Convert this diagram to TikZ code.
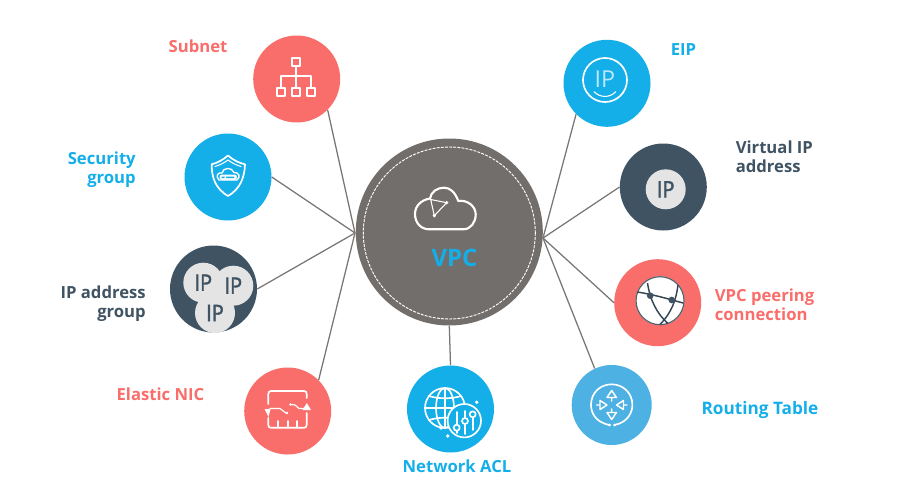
\documentclass[tikz,border=0pt]{standalone}
\usepackage{fontspec}
\setmainfont{Open Sans}
\newfontfamily\ipfont[FakeBold=1.6,FakeStretch=0.88]{Open Sans}
\definecolor{hwblue}{HTML}{14AEE9}
\definecolor{hwred}{HTML}{F96E6A}
\definecolor{hwdark}{HTML}{3F5363}
\definecolor{hwsky}{HTML}{4DB1E4}
\definecolor{hwgrey}{HTML}{726E6C}
\definecolor{hwlight}{HTML}{E4E4E4}
\definecolor{hwline}{HTML}{7A7674}
\tikzset{
  x=0.75pt,y=-0.75pt,
  disc/.style={circle,inner sep=0pt,minimum size=65.25pt,fill=#1},
  link/.style={draw=hwline,line width=0.95pt},
  lbl/.style={font=\bfseries\fontsize{12.5}{14.3}\selectfont,inner sep=0pt,text=#1},
  ic/.style={draw=white,line width=1.25pt,line cap=round,line join=round},
  ipc/.style={circle,inner sep=0pt,minimum size=30pt,fill=hwlight},
  iptx/.style={text=hwdark,inner sep=0pt,font=\ipfont\fontsize{17}{17}\selectfont},
  darkln/.style={draw=hwdark!85!black,line width=1.1pt}
}
\begin{document}
\begin{tikzpicture}
\useasboundingbox (0,0) rectangle (923,496);
% hub
\node[circle,inner sep=0pt,minimum size=140.25pt,fill=hwgrey] (vpc) at (449.3,232) {};
\coordinate (hubL) at (355,233);
\coordinate (hubR) at (543,238);
% satellites
\node[disc=hwred]  (subnet) at (296.7,79) {};
\node[disc=hwblue] (secgrp) at (228,177) {};
\node[disc=hwdark] (ipgrp)  at (213.5,289) {};
\node[disc=hwred]  (nic)    at (287.7,411) {};
\node[disc=hwblue] (acl)    at (450.5,409) {};
\node[disc=hwblue] (eip)    at (607,83.3) {};
\node[disc=hwdark] (vip)    at (663.3,187) {};
\node[disc=hwred]  (peer)   at (657.7,302.7) {};
\node[disc=hwsky,minimum size=60pt] (route) at (611.7,405) {};
% connectors
\draw[link] (hubL) -- (subnet.-45);
\draw[link] (hubL) -- (secgrp.east);
\draw[link] (hubL) -- (ipgrp.east);
\draw[link] (hubL) -- (nic.45);
\draw[link] (vpc.south) -- (acl.north);
\draw[link] (hubR) -- (eip.225);
\draw[link] (hubR) -- (vip.west);
\draw[link] (hubR) -- (peer.west);
\draw[link] (hubR) -- (route.115);
% VPC inner
\draw[white,line width=0.7pt,dash pattern=on 2.2pt off 0.9pt] (449.3,233) circle[radius=86];
\draw[ic,line width=1.6pt] (429.3,229.3) -- (463.3,229.3)
  .. controls (471,229.3) and (475.7,222) .. (475.7,214.5)
  .. controls (475.7,206) and (467,199.5) .. (458.3,201)
  .. controls (455,192) and (450,187.7) .. (444,187.7)
  .. controls (437,187.7) and (431,192) .. (430,198.5)
  .. controls (421,200) and (415,206) .. (415,214)
  .. controls (415,223) and (421,229.3) .. (429.3,229.3) -- cycle;
\draw[white,line width=0.8pt,fill=none] (430.7,199.5) -- (446.7,202.7) -- (434.3,215.7) -- cycle;
\fill[white] (446.7,202.7) circle[radius=1.8] (434.3,215.7) circle[radius=1.8];
\node[text=hwblue,inner sep=0pt,font=\bfseries\fontsize{18}{18}\selectfont] (vpctxt) at (454.5,257.5) {VPC};
% Subnet icon
\draw[ic] (291.7,57.7) rectangle (299.7,65.7);
\draw[ic] (276.7,88) rectangle (284.7,96);
\draw[ic] (291.7,88) rectangle (299.7,96);
\draw[ic] (307,88) rectangle (315,96);
\draw[ic] (295.7,65.7) -- (295.7,88) (280.7,88) -- (280.7,76) -- (311,76) -- (311,88);
% Security group icon
\draw[ic,line width=1.3pt] (228,155.5) .. controls (223,160) and (217,163) .. (211.7,164.3)
  .. controls (211.5,178) and (216,189) .. (228,196)
  .. controls (240,189) and (244.5,178) .. (245,164.3)
  .. controls (239,163) and (233,160) .. (228,155.5) -- cycle;
\draw[ic,line width=0.8pt] (228,160) .. controls (224,163) and (220,165) .. (215,166.5);
\draw[ic,line width=0.8pt] (228,160) .. controls (232,163) and (236,165) .. (241,166.5);
\draw[ic,line width=1pt] (219,180) .. controls (215,176) and (218,172) .. (222,173)
  .. controls (223,167) and (232,167) .. (234,172.5)
  .. controls (239,172) and (241,177) .. (237,180) -- cycle;
\fill[white,rounded corners=2pt] (219.5,174.5) rectangle (237,180);
\fill[hwblue] (221.5,176.6) rectangle (224.5,178) (226,176.6) rectangle (234,178);
% IP group
\node[ipc] (ip1) at (203.3,282.7) {};
\node[ipc] (ip2) at (233.3,285.7) {};
\node[ipc] (ip3) at (215,313) {};
\node[iptx] at (ip1) {IP};
\node[iptx] at (ip2) {IP};
\node[iptx] at (ip3) {IP};
% NIC icon
\draw[ic] (268.3,404) -- (268.3,394) .. controls (268.3,392) and (269.5,391) .. (271,391)
  -- (304,391) .. controls (305.7,391) and (306.7,392) .. (306.7,394) -- (306.7,398);
\draw[ic] (306.7,413) -- (306.7,425) .. controls (306.7,427) and (305.7,427.7) .. (304,427.7)
  -- (271,427.7) .. controls (269.5,427.7) and (268.3,427) .. (268.3,425) -- (268.3,418);
\fill[white] (264.5,409) -- (270.5,409) -- (268.5,417) -- cycle;
\fill[white] (306.8,403) -- (302.5,410) -- (311,410) -- cycle;
\draw[ic,line width=0.9pt] (270,408.5) -- (280,408.5) -- (286,413) -- (287,413);
\draw[ic,line width=0.9pt] (290.5,404.5) -- (295,405) -- (299,408.5) -- (306,408.5);
\fill[white] (287,413) circle[radius=1.4] (290.5,404.5) circle[radius=1.4];
\draw[ic] (278.3,421) -- (278.3,427.7) (288.3,421) -- (288.3,427.7) (296.7,421) -- (296.7,427.7);
% ACL icon
\draw[ic] (445,408) circle[radius=20];
\draw[ic] (445,408) ellipse[x radius=9,y radius=20];
\draw[ic] (445,388) -- (445,428) (425,408) -- (465,408);
\draw[ic] (429,396) .. controls (438,399) and (452,399) .. (461,396);
\draw[ic] (429,420) .. controls (438,417) and (452,417) .. (461,420);
\fill[hwblue] (464.3,420.7) circle[radius=16.7];
\draw[ic] (464.3,420.7) circle[radius=16.7];
\fill[white] (476.7,402.3) circle[radius=1.9] (447.7,436) circle[radius=1.9] (441,428) circle[radius=1.9];
\draw[ic] (456.7,412) -- (456.7,424) (456.7,431) -- (456.7,433);
\draw[ic] (465,411) -- (465,418) (465,424) -- (465,434);
\draw[ic] (472.7,418) -- (472.7,430);
\draw[ic] (456.7,427.7) circle[radius=3] (465,421) circle[radius=3] (472.7,414.3) circle[radius=3];
% EIP icon
\draw[ic] (605,80) circle[radius=22];
\node[text=white!72!hwblue,inner sep=0pt,font=\fontsize{17.5}{17.5}\selectfont] (eiptxt) at (605,79.5) {IP};
\draw[ic,line width=0.8pt] (594,91.7) .. controls (600,98) and (610,98) .. (615.7,91.7);
% VIP icon
\node[ipc] (ipv) at (665.7,189.3) {};
\node[iptx] at (ipv) {IP};
% Peering icon
\draw[white,fill=white,line width=0.5pt] (660,300.7) circle[radius=24];
\draw[hwdark!90!white,line width=0.9pt] (660,300.7) circle[radius=24];
\draw[darkln] (647.5,283) .. controls (650,300) and (657,314) .. (668,323.5);
\draw[darkln] (637.5,292) .. controls (655,295) and (665,298) .. (683,303);
\draw[darkln] (678,285) .. controls (676,300) and (672,312) .. (660,324.5);
\fill[hwdark] (650.2,295.7) circle[radius=3.3] (671.7,300) circle[radius=3.3];
% Routing icon
\draw[ic] (609.5,425) .. controls (594,422) and (591,411) .. (591,405)
  .. controls (591,392) and (601,384.3) .. (611.7,384.3)
  .. controls (622,384.3) and (632.4,392) .. (632.4,405)
  .. controls (632.4,411) and (629,422) .. (614.5,425);
\fill[white] (609.5,425) circle[radius=1.5] (614.5,425) circle[radius=1.5];
\draw[ic,line width=1.1pt] (611.7,390.5) -- (607,397.5) -- (616.4,397.5) -- cycle (611.7,397.5) -- (611.7,401);
\draw[ic,line width=1.1pt] (611.7,419.5) -- (607,412.5) -- (616.4,412.5) -- cycle (611.7,412.5) -- (611.7,409);
\draw[ic,line width=1.1pt] (607,405) -- (600,400.5) -- (600,409.5) -- cycle (600,405) -- (596.5,405);
\draw[ic,line width=1.1pt] (616.5,405) -- (623.5,400.5) -- (623.5,409.5) -- cycle (623.5,405) -- (627,405);
% Labels
\node[lbl=hwred] (lsub) at (198,46.5) {Subnet};
\node[lbl=hwblue,align=right,anchor=east] (lsec) at (136,169.5) {Security\\group};
\node[lbl=hwdark,align=right,anchor=east] (lipg) at (146,304) {IP address\\group};
\node[lbl=hwred] (lnic) at (160.5,394) {Elastic NIC};
\node[lbl=hwblue] (lacl) at (457,466) {Network ACL};
\node[lbl=hwblue] (leip) at (683.5,50) {EIP};
\node[lbl=hwdark,align=left,anchor=west] (lvip) at (735.5,156.5) {Virtual IP\\address};
\node[lbl=hwred,align=left,anchor=west] (lpeer) at (714.5,305) {VPC peering\\connection};
\node[lbl=hwblue,font=\bfseries\fontsize{12.9}{14.3}\selectfont] (lrt) at (760,410.5) {Routing Table};
\end{tikzpicture}
\end{document}
